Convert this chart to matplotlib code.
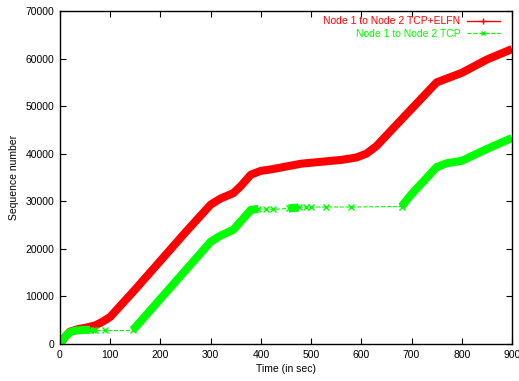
import matplotlib
matplotlib.use('Agg')
import matplotlib.pyplot as plt
from matplotlib.lines import Line2D

plt.rcParams['font.family'] = ['Liberation Sans', 'DejaVu Sans']

# Node 1 -> Node 2, TCP+ELFN (time in sec, sequence number)
red_t = [0, 10, 20, 35, 50, 70, 85, 100, 150, 200, 250, 300, 320, 345, 360, 380,
         400, 420, 450, 480, 520, 560, 590, 610, 630, 680, 750, 770, 800, 850, 900]
red_seq = [0, 1500, 2600, 3100, 3400, 3900, 4700, 5700, 11500, 17500, 23500, 29300,
           30600, 31700, 33200, 35600, 36400, 36700, 37300, 37900, 38300, 38700,
           39200, 40000, 41600, 47200, 55000, 55800, 57000, 59800, 62000]

# Node 1 -> Node 2, TCP: dense stretches
green_dense = [
    ([0, 10, 20, 30, 45, 60], [0, 1500, 2500, 2800, 2950, 3000]),
    ([145, 150, 200, 250, 300, 320, 345, 360, 380, 395],
     [3000, 3500, 9500, 15500, 21500, 22800, 24000, 25800, 28200, 28400]),
    ([455, 465, 475], [28500, 28600, 28700]),
    ([680, 700, 750, 770, 800, 850, 900],
     [28900, 31500, 37200, 38000, 38500, 41000, 43300]),
]
# sparse points in the gaps (joined by the dashed line)
green_gaps = [
    ([60, 65, 70, 90, 145], [3000, 3000, 3000, 3000, 3000]),
    ([395, 410, 425, 455], [28400, 28300, 28300, 28500]),
    ([475, 490, 500, 530, 580, 680], [28700, 28800, 28800, 28800, 28800, 28900]),
]

red = '#ff0000'
green = '#00ff00'

fig = plt.figure(figsize=(5.19, 3.81), dpi=100)
ax = fig.add_axes([0.1156, 0.0971, 0.8709, 0.874])

ax.plot(red_t, red_seq, color=red, lw=5.8, solid_capstyle='butt')
for t, s in green_gaps:
    ax.plot(t, s, color=green, lw=0.8, ls='--', marker='x', ms=4, mew=1)
for t, s in green_dense:
    ax.plot(t, s, color=green, lw=5.8, solid_capstyle='butt')

ax.set_xlim(0, 900)
ax.set_ylim(0, 70000)
ax.set_xticks(range(0, 901, 100))
ax.set_yticks(range(0, 70001, 10000))
ax.tick_params(direction='in', top=True, right=True, labelsize=7.5,
               length=4, width=0.8, pad=4)
for sp in ax.spines.values():
    sp.set_linewidth(1)
ax.set_xlabel('Time (in sec)', fontsize=7.5, labelpad=3)
ax.set_ylabel('Sequence number', fontsize=7.5, labelpad=5)

handles = [Line2D([], [], color=red, lw=1, marker='+', ms=4),
           Line2D([], [], color=green, lw=0.8, ls='--', marker='x', ms=3.5)]
ax.legend(handles, ['Node 1 to Node 2 TCP+ELFN', 'Node 1 to Node 2 TCP'],
          loc='upper right', bbox_to_anchor=(0.985, 1.0), frameon=False,
          markerfirst=False, labelcolor='linecolor', fontsize=7.5,
          handlelength=3.2, handletextpad=0.6, labelspacing=0.25,
          borderaxespad=0.1)

fig.savefig('out.png', dpi=100)
